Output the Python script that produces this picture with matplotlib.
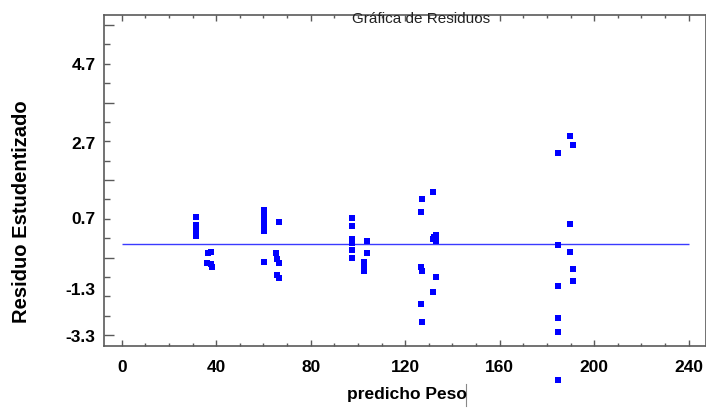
import numpy as np
import matplotlib.pyplot as plt
from matplotlib.ticker import MultipleLocator, FixedLocator
from matplotlib.lines import Line2D

# predicted weight vs studentized residual
pred = [31.4, 31.4, 31.4, 31.4, 31.4, 36.5, 37.8, 36.1, 37.8, 38.2,
        60.2, 60.2, 60.2, 60.2, 60.2, 60.2, 66.6, 65.4, 65.8, 66.6, 65.8, 66.6,
        97.5, 97.5, 97.5, 97.5, 97.5, 97.5, 103.8, 103.8, 102.6, 102.6, 102.6,
        131.8, 127.1, 126.7, 132.2, 131.8, 133.1, 133.1, 126.7, 127.1, 133.1,
        131.8, 126.7, 127.1,
        189.7, 191.0, 184.7, 189.7, 184.7, 189.7, 191.0, 191.0, 184.7, 184.7,
        184.7, 184.7]
resid = [0.70, 0.49, 0.39, 0.28, 0.21, -0.23, -0.21, -0.49, -0.52, -0.59,
         0.88, 0.72, 0.62, 0.49, 0.34, -0.46, 0.57, -0.23, -0.39, -0.49, -0.80, -0.88,
         0.67, 0.46, 0.13, 0.03, -0.15, -0.36, 0.08, -0.23, -0.46, -0.59, -0.70,
         1.34, 1.16, 0.83, 0.18, 0.13, 0.08, 0.23, -0.59, -0.70, -0.85,
         -1.24, -1.55, -2.01,
         2.79, 2.55, 2.35, 0.52, -0.03, -0.21, -0.65, -0.95, -1.08, -1.91,
         -2.27, -3.51]

x_range = (0, 240)
y_labels = ['4.7', '2.7', '0.7', '-1.3', '-3.3']
y_label_pos = [4.65, 2.61, 0.67, -1.16, -2.37]

sans = ['Liberation Sans', 'DejaVu Sans']
frame = '#5a5a5a'

fig = plt.figure(figsize=(7.06, 4.08), dpi=100)
ax = fig.add_axes([104 / 706, 62 / 408, 601.5 / 706, 331 / 408])

ax.plot(pred, resid, 's', color='#0000ff', markersize=3.7, markeredgewidth=0,
        clip_on=False, zorder=3)
ax.hlines(0, *x_range, color='#3a3aff', linewidth=1.0, zorder=2)

ax.set_xlim(-7.5, 247.1)
ax.set_ylim(-2.63, 5.91)

for s in ax.spines.values():
    s.set_color(frame)
    s.set_linewidth(1.2)

# x axis
ax.xaxis.set_major_locator(MultipleLocator(40))
ax.xaxis.set_minor_locator(MultipleLocator(10))
ax.tick_params(axis='x', which='major', direction='in', length=4, width=1,
               color=frame, top=True, pad=10)
ax.tick_params(axis='x', which='minor', direction='in', length=2, width=1,
               color=frame, top=True)
for lab in ax.get_xticklabels():
    lab.set_fontfamily(sans)
    lab.set_fontweight('bold')
    lab.set_fontsize(12.5)

# y axis tick marks, labels drawn from a twin axis
ax.yaxis.set_major_locator(FixedLocator(np.arange(-2.35, 5.7, 2.0)))
ax.yaxis.set_minor_locator(FixedLocator(np.arange(-2.35, 5.7, 0.5)))
ax.tick_params(axis='y', which='major', direction='in', length=7.5, width=1,
               color=frame, right=True, labelleft=False)
ax.tick_params(axis='y', which='minor', direction='in', length=4, width=1,
               color=frame, right=True)

lab_ax = ax.twinx()
lab_ax.set_ylim(ax.get_ylim())
lab_ax.set_yticks(y_label_pos, y_labels)
lab_ax.yaxis.set_ticks_position('left')
lab_ax.tick_params(axis='y', length=0, pad=6, labelleft=True, labelright=False)
for s in lab_ax.spines.values():
    s.set_visible(False)
for lab in lab_ax.get_yticklabels():
    lab.set_fontfamily(sans)
    lab.set_fontweight('bold')
    lab.set_fontsize(12.5)

fig.text(0.596, 1 - 19 / 408, 'Gráfica de Residuos', ha='center', va='center',
         fontsize=11, family=sans, color='#222222')
fig.text(407 / 706, 1 - 395 / 408, 'predicho Peso', ha='center', va='center',
         fontsize=12.5, fontweight='bold', family=sans)
fig.text(22 / 706, 1 - 212 / 408, 'Residuo Estudentizado', ha='center', va='center',
         rotation=90, fontsize=14.5, fontweight='bold', family=sans)
fig.add_artist(Line2D([466 / 706, 466 / 706], [1 - 406 / 408, 1 - 384 / 408],
                      color='#888888', linewidth=0.8))

fig.savefig('out.png', dpi=100)
